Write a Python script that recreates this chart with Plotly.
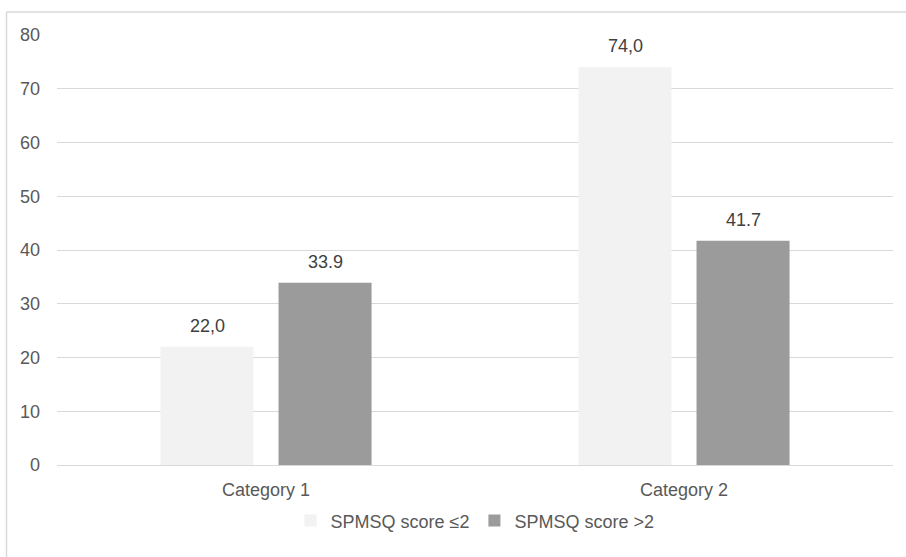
import plotly.graph_objects as go

categories = ["Category 1", "Category 2"]
series_names = ["SPMSQ score ≤2", "SPMSQ score >2"]
values_low = [22.0, 74.0]
values_high = [33.9, 41.7]
labels_low = ["22,0", "74,0"]
labels_high = ["33.9", "41.7"]
tick_vals = [0, 10, 20, 30, 40, 50, 60, 70, 80]

colors = ["#f2f2f2", "#9b9b9b"]
series_values = [values_low, values_high]
series_labels = [labels_low, labels_high]

fig = go.Figure()
for name, vals, col in zip(series_names, series_values, colors):
    fig.add_trace(go.Bar(x=categories, y=vals, name=name,
                         marker=dict(color=col, line=dict(width=0))))

annotations = []
for i, (vals, labs) in enumerate(zip(series_values, series_labels)):
    for cat, v, lab in zip(categories, vals, labs):
        annotations.append(dict(x=cat, y=v, text=lab, showarrow=False,
                                xref="x", yref="y", yanchor="bottom",
                                xshift=(i - 0.5) * 118, yshift=9,
                                font=dict(size=18, color="#404040")))

fig.update_layout(
    width=906, height=557,
    margin=dict(l=57, r=13, t=35, b=92),
    paper_bgcolor="white", plot_bgcolor="white",
    font=dict(family="Liberation Sans, Arial, sans-serif", size=18, color="#595959"),
    barmode="group", bargap=0.435, bargroupgap=0.212,
    showlegend=True,
    legend=dict(orientation="h", x=0.5, xanchor="center", y=-0.130, yanchor="middle",
                font=dict(size=18, color="#595959"), traceorder="normal"),
    xaxis=dict(showgrid=False, showline=True, linecolor="#d9d9d9", linewidth=1,
               ticks="", tickfont=dict(size=18, color="#595959"), ticklabelstandoff=8),
    yaxis=dict(range=[0, 80], tickvals=tick_vals, showgrid=True, gridcolor="#d9d9d9",
               gridwidth=1, zeroline=False, showline=False, ticks="",
               tickfont=dict(size=18, color="#595959"), ticklabelstandoff=16),
    annotations=annotations,
    shapes=[
        dict(type="line", xref="paper", yref="paper", x0=-50.5/836, x1=-50.5/836,
             y0=-1.5, y1=(465-12)/430, line=dict(color="#d9d9d9", width=1.5)),
        dict(type="line", xref="paper", yref="paper", x0=-50.5/836, x1=1.2,
             y0=(465-12)/430, y1=(465-12)/430, line=dict(color="#d9d9d9", width=1.5)),
    ],
)

fig.write_html("out.html", config={"displayModeBar": False},
               post_script="document.body.style.margin='0';document.body.style.overflow='hidden';")
